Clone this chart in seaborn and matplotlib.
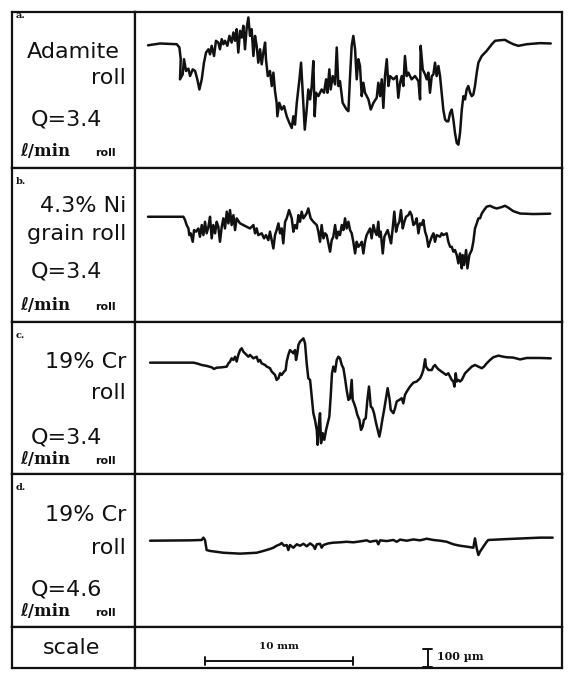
import matplotlib
matplotlib.use("Agg")
import matplotlib.pyplot as plt
import seaborn as sns
import pandas as pd

# Profiles of the roll surfaces, x in mm along the trace, height in µm
a_x = [0.0, 0.81, 1.94, 2.12, 2.21, 2.16, 2.34, 2.43, 2.57, 2.73, 2.84, 3.02, 3.18, 3.33, 3.47, 3.63,
       3.78, 3.92, 4.08, 4.19, 4.30, 4.46, 4.59, 4.75, 4.86, 4.98, 5.09, 5.20, 5.36, 5.50, 5.65, 5.77,
       5.88, 5.99, 6.10, 6.22, 6.33, 6.44, 6.55, 6.67, 6.78, 6.89, 7.00, 7.12, 7.23, 7.34, 7.45, 7.57,
       7.68, 7.79, 7.91, 7.97, 8.09, 8.24, 8.36, 8.47, 8.58, 8.69, 8.74, 8.87, 9.03, 9.19, 9.37, 9.55,
       9.71, 9.82, 9.93, 10.05, 10.23, 10.34, 10.45, 10.59, 10.72, 10.83, 10.95, 11.06, 11.17, 11.26,
       11.35, 11.51, 11.73, 11.89, 12.03, 12.12, 12.25, 12.34, 12.48, 12.64, 12.75, 12.86, 12.97,
       13.15, 13.42, 13.54, 13.65, 13.76, 13.87, 13.99, 14.10, 14.21, 14.32, 14.44, 14.55, 14.66,
       14.89, 15.05, 15.23, 15.45, 15.56, 15.68, 15.79, 15.90, 16.01, 16.13, 16.24, 16.35, 16.58,
       16.80, 16.91, 17.03, 17.14, 17.25, 17.36, 17.48, 17.59, 17.81, 18.04, 18.27, 18.38, 18.42,
       18.56, 18.72, 18.83, 18.94, 19.05, 19.17, 19.28, 19.39, 19.50, 19.62, 19.73, 19.84, 19.95,
       20.07, 20.18, 20.29, 20.41, 20.52, 20.63, 20.74, 20.86, 20.97, 21.08, 21.20, 21.31, 21.42,
       21.53, 21.64, 21.76, 21.87, 21.98, 22.09, 22.21, 22.32, 22.55, 22.88, 23.23, 23.45, 23.78,
       24.12, 24.35, 24.68, 25.02, 25.59, 26.49, 27.21]
a_y = [-6, 4, 0, -18, -83, -194, -167, -83, -148, -135, -176, -139, -148, -194, -250, -194,
       -102, -46, -28, -56, -9, -65, 19, 9, -28, 28, 0, 19, -9, 46, 9, 65,
       19, 83, -46, 74, 37, 102, -28, 93, 148, 46, 83, -65, 46, -9, -102, -28,
       -111, -46, 9, -83, -176, -148, -231, -157, -259, -324, -398, -324, -361, -342, -398, -435,
       -463, -398, -444, -324, -194, -102, -268, -472, -361, -250, -305, -231, -93, -398,
       -268, -287, -250, -268, -194, -268, -139, -250, -176, -222, -18, -231, -204,
       -324, -361, -370, -176, -9, 46, -28, -194, -83, -120, -287, -213, -268,
       -305, -361, -324, -296, -213, -287, -194, -352, -176, -83, -231, -176, -194,
       -176, -296, -213, -176, -231, -65, -176, -157, -194, -176, -204, -305, -9,
       -139, -167, -194, -157, -268, -176, -167, -102, -176, -120, -176, -268, -361,
       -416, -426, -426, -379, -361, -416, -490, -546, -555, -490, -361, -287, -305,
       -250, -231, -268, -287, -278, -231, -157, -102, -65, -37, 0, 19, 22,
       24, 13, 0, -9, 0, 6, 4]

b_x = [0.0, 2.39, 2.50, 2.61, 2.73, 2.79, 2.88, 3.02, 3.11, 3.24, 3.40, 3.51, 3.63, 3.74, 3.85, 3.96,
       4.08, 4.19, 4.30, 4.41, 4.53, 4.64, 4.75, 4.86, 4.98, 5.09, 5.20, 5.32, 5.43, 5.54, 5.65, 5.77,
       5.88, 5.99, 6.22, 6.44, 6.67, 6.89, 7.12, 7.23, 7.34, 7.45, 7.68, 7.84, 7.97, 8.13, 8.24, 8.36,
       8.47, 8.58, 8.69, 8.81, 8.92, 9.03, 9.14, 9.26, 9.37, 9.53, 9.71, 9.82, 9.93, 10.05, 10.16,
       10.27, 10.38, 10.50, 10.72, 10.83, 10.99, 11.17, 11.40, 11.51, 11.62, 11.73, 11.85, 11.96,
       12.07, 12.30, 12.41, 12.52, 12.64, 12.75, 12.86, 12.97, 13.09, 13.20, 13.31, 13.42, 13.54,
       13.65, 13.76, 13.87, 13.99, 14.10, 14.21, 14.32, 14.44, 14.55, 14.66, 14.77, 14.89, 15.00,
       15.11, 15.23, 15.34, 15.45, 15.56, 15.63, 15.72, 15.86, 15.97, 16.08, 16.19, 16.31, 16.42,
       16.53, 16.64, 16.76, 16.87, 16.98, 17.09, 17.21, 17.32, 17.43, 17.59, 17.70, 17.81, 17.93,
       18.04, 18.15, 18.27, 18.38, 18.49, 18.60, 18.72, 18.83, 18.94, 19.05, 19.17, 19.28, 19.39,
       19.50, 19.73, 19.84, 19.95, 20.18, 20.29, 20.41, 20.52, 20.63, 20.74, 20.86, 20.97, 21.08,
       21.20, 21.26, 21.35, 21.49, 21.58, 21.71, 21.87, 21.98, 22.09, 22.21, 22.32, 22.43, 22.55,
       22.70, 22.88, 23.11, 23.33, 23.56, 23.90, 24.12, 24.35, 24.68, 25.14, 26.04, 27.17]
b_y = [0, 0, -18, -46, -65, -102, -92, -139, -74, -83, -65, -111, -46, -102, -28, -92,
       -56, 0, -120, -46, -92, -28, -56, -139, -56, -9, -65, 28, -37, 37, -46, 9,
       -74, -9, -37, -46, -56, -65, -46, -92, -65, -102, -92, -120, -102, -130, -83, -130,
       -176, -102, -74, -37, -92, -65, -148, -28, -9, 37, -9, -83, -46, -65, 9,
       -28, 28, -9, 19, 46, -9, -28, -46, -83, -139, -46, -120, -92,
       -102, -194, -130, -111, -46, -120, -83, -102, -46, -74, -9, -65, -28,
       -74, -92, -139, -204, -139, -167, -157, -139, -204, -139, -102, -83, -65,
       -120, -46, -83, -102, -28, -111, -83, -204, -111, -92, -74, -111, -148,
       -65, 28, -83, -46, -28, 37, -65, -28, 0, 9, 28, 9, -46,
       -37, -9, -92, -37, -46, -18, -83, -111, -167, -139, -111, -92, -139,
       -102, -111, -92, -102, -92, -139, -167, -167, -194, -185, -213, -259, -204,
       -287, -213, -268, -185, -287, -213, -185, -139, -65, -37, -9, -9, 18,
       37, 56, 61, 52, 46, 54, 61, 50, 31, 18, 15, 17]

c_x = [0.14, 1.71, 3.06, 3.29, 3.63, 3.96, 4.30, 4.46, 4.64, 4.98, 5.32, 5.43, 5.54, 5.65, 5.77,
       5.88, 5.99, 6.10, 6.22, 6.33, 6.44, 6.55, 6.67, 6.78, 6.89, 7.12, 7.34, 7.45, 7.57, 7.68,
       7.91, 8.02, 8.13, 8.24, 8.36, 8.47, 8.58, 8.69, 8.81, 8.92, 9.03, 9.19, 9.30, 9.37, 9.48,
       9.59, 9.71, 9.82, 9.93, 10.00, 10.09, 10.16, 10.27, 10.38, 10.50, 10.61, 10.72, 10.83,
       10.95, 11.06, 11.17, 11.28, 11.40, 11.46, 11.55, 11.62, 11.69, 11.80, 11.91, 12.03, 12.14,
       12.25, 12.34, 12.43, 12.52, 12.64, 12.75, 12.86, 12.97, 13.09, 13.20, 13.31, 13.42, 13.54,
       13.65, 13.76, 13.83, 13.92, 14.03, 14.14, 14.28, 14.39, 14.50, 14.59, 14.71, 14.82, 14.93,
       15.05, 15.16, 15.27, 15.41, 15.52, 15.63, 15.72, 15.83, 15.95, 16.06, 16.19, 16.31, 16.40,
       16.58, 16.69, 16.80, 16.98, 17.14, 17.25, 17.36, 17.48, 17.70, 17.93, 18.15, 18.38, 18.49,
       18.60, 18.72, 18.78, 18.94, 19.17, 19.28, 19.39, 19.50, 19.62, 19.84, 20.00, 20.14, 20.29,
       20.41, 20.52, 20.63, 20.70, 20.79, 20.86, 20.97, 21.08, 21.20, 21.31, 21.42, 21.64, 21.87,
       22.09, 22.32, 22.55, 22.70, 22.88, 23.11, 23.33, 23.67, 24.01, 24.23, 24.68, 25.14, 25.59,
       26.49, 27.21]
c_y = [0, 0, 0, -4, -13, -18, -26, -35, -28, -26, -22, -4, 6, 24, 15,
       33, 6, 43, 70, 80, 61, 52, 43, 33, 43, 24, 33, 6, 15, -4,
       -13, -22, -26, -31, -50, -59, -68, -96, -87, -59, -68, -50, -41, 6, 43,
       70, 61, 52, 70, 15, 52, 98, 117, 126, 135, 107, -4, -87,
       -96, -189, -281, -318, -374, -457, -337, -281, -448, -392, -429, -374, -337,
       -300, -189, -59, -22, -50, 15, 33, 24, -13, -31, -87, -152, -207,
       -198, -96, -207, -226, -253, -290, -318, -374, -355, -318, -309, -207, -133,
       -244, -253, -281, -337, -374, -411, -374, -318, -263, -207, -142, -198, -263,
       -281, -253, -216, -207, -198, -226, -179, -161, -133, -111, -105, -87, -68,
       -41, 19, -22, -41, -41, -22, -13, -26, -37, -50, -59, -68, -59,
       -78, -96, -105, -133, -59, -105, -96, -105, -96, -78, -59, -41, -22,
       -13, -22, -31, -22, -4, 15, 30, 39, 33, 30, 28, 18, 26,
       26, 24]

d_x = [0.14, 2.84, 3.63, 3.74, 3.85, 3.96, 4.19, 5.09, 6.22, 7.34, 7.79, 8.24, 8.47, 8.69, 8.92,
       9.03, 9.19, 9.37, 9.48, 9.59, 9.82, 10.05, 10.27, 10.50, 10.72, 10.95, 11.17, 11.28, 11.40,
       11.62, 11.73, 11.85, 12.18, 12.52, 12.97, 13.42, 13.87, 14.32, 14.77, 15.00, 15.23, 15.45,
       15.56, 15.68, 16.13, 16.58, 16.80, 17.03, 17.48, 17.93, 18.38, 18.83, 19.28, 19.73, 20.18,
       20.63, 21.08, 21.53, 21.98, 22.09, 22.21, 22.32, 22.43, 22.66, 22.88, 22.99, 24.23, 25.36,
       26.49, 27.34]
d_y = [0, 2, 4, 17, 4, -52, -57, -67, -72, -67, -57, -46, -39, -28, -20,
       -13, -28, -24, -52, -24, -39, -20, -28, -17, -31, -15, -28, -46, -20,
       -17, -39, -24, -15, -11, -9, -6, -9, -4, 2, -6, -2, 0,
       -20, 2, -2, 4, -6, 6, 0, 7, 2, 11, 4, 0, -6,
       -20, -28, -33, -39, 13, -43, -80, -61, -33, -6, 4, 9, 13,
       17, 17]

panel_tags = ["a.", "b.", "c.", "d."]
materials = [["Adamite", "roll"], ["4.3% Ni", "grain roll"], ["19% Cr", "roll"], ["19% Cr", "roll"]]
flow_rates = ["Q=3.4", "Q=3.4", "Q=3.4", "Q=4.6"]
scale_len_mm = 10
scale_height_um = 100

profiles = [(a_x, a_y), (b_x, b_y), (c_x, c_y), (d_x, d_y)]

ink = "#111111"
sns.set_style("white")
plt.rcParams["font.family"] = ["DejaVu Sans", "Noto Sans"]
plt.rcParams["text.color"] = ink
serif = ["DejaVu Serif", "DejaVu Sans", "Noto Sans", "Liberation Serif"]

W, H = 572, 674
fig = plt.figure(figsize=(W / 100, H / 100), dpi=100)


def box(x0, y0, x1, y1):
    return [x0 / W, 1 - y1 / H, (x1 - x0) / W, (y1 - y0) / H]


def txt(x, y, s, **kw):
    fig.text(x / W, 1 - y / H, s, va="center", color=ink, **kw)


rows = [(12, 168), (168, 322), (322, 474), (474, 627), (627, 668)]
L, DIV, R = 12, 135, 562
ylims = [(-684, 178), (-585, 271), (-619, 226), (-480, 371)]
xlim = (-0.88, 27.97)

axes = []
for top, bot in rows:
    la = fig.add_axes(box(L, top, DIV, bot))
    pa = fig.add_axes(box(DIV, top, R, bot))
    for ax in (la, pa):
        ax.set_xticks([])
        ax.set_yticks([])
        for sp in ax.spines.values():
            sp.set_linewidth(1.6)
            sp.set_color(ink)
    axes.append((la, pa))

for i, (xs, ys) in enumerate(profiles):
    pa = axes[i][1]
    df = pd.DataFrame({"x": xs, "y": ys})
    sns.lineplot(data=df, x="x", y="y", ax=pa, sort=False, estimator=None,
                 color=ink, linewidth=1.8)
    pa.set_xlim(*xlim)
    pa.set_ylim(*ylims[i])
    pa.set_xlabel("")
    pa.set_ylabel("")
    pa.set_xticks([])
    pa.set_yticks([])

# label column
tag_y = [16, 181, 336, 488]
name_y = [(52, 78), (206, 234), (362, 393), (515, 548)]
q_y = [119, 272, 437, 590]
unit_y = [152, 306, 460, 612]
for i in range(4):
    txt(16, tag_y[i], panel_tags[i], fontsize=7, fontweight="bold", family=serif)
    n1, n2 = materials[i]
    if i == 0:
        txt(73, name_y[i][0], n1, fontsize=16, ha="center")
    else:
        txt(126, name_y[i][0], n1, fontsize=16, ha="right")
    txt(126, name_y[i][1], n2, fontsize=16, ha="right")
    txt(66, q_y[i], flow_rates[i], fontsize=16, ha="center")
    txt(20, unit_y[i], "ℓ/min", fontsize=12, fontweight="bold", family=serif, ha="left")
    txt(95, unit_y[i] + 1, "roll", fontsize=8, fontweight="bold", ha="left")

txt(72, 648, "scale", fontsize=16, ha="center")

# scale bars
sa = axes[4][1]
sa.set_xlim(*xlim)
sa.set_ylim(0, 228)
x0 = 3.85
bar = pd.DataFrame({"x": [x0, x0 + scale_len_mm], "y": [39, 39]})
sns.lineplot(data=bar, x="x", y="y", ax=sa, color=ink, linewidth=1.4, sort=False, estimator=None)
for xe in (x0, x0 + scale_len_mm):
    sa.plot([xe, xe], [18, 60], color=ink, linewidth=1.4)
sa.text(x0 + scale_len_mm / 2, 118, "10 mm", ha="center", va="center", fontsize=7.5,
        fontweight="bold", family=serif, color=ink)
xv = 18.9
sa.plot([xv, xv], [6, 6 + scale_height_um], color=ink, linewidth=1.4)
for yv in (6, 6 + scale_height_um):
    sa.plot([xv - 0.3, xv + 0.3], [yv, yv], color=ink, linewidth=1.4)
sa.text(xv + 0.6, 62, "100 µm", ha="left", va="center", fontsize=8,
        fontweight="bold", family=serif, color=ink)
sa.set_xlabel("")
sa.set_ylabel("")
sa.set_xticks([])
sa.set_yticks([])

fig.savefig("out.png", dpi=100)
